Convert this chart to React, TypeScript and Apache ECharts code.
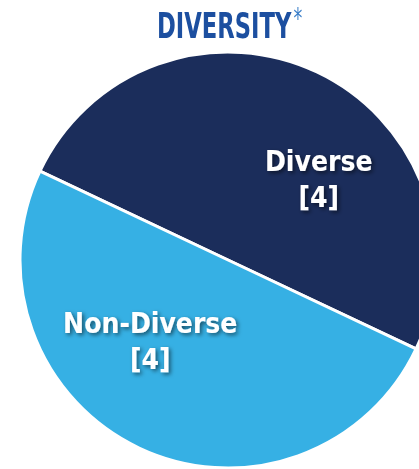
import React, { useEffect, useRef } from "react";
import * as echarts from "echarts";

const categories = ["Diverse", "Non-Diverse"];
const values = [4, 4];
const colors = ["#1b2d5b", "#36b0e4"];
const titleText = "DIVERSITY";

export default function App() {
  const ref = useRef<HTMLDivElement>(null);
  useEffect(() => {
    const chart = echarts.init(ref.current!, null, { renderer: "svg" });
    const font = "'Liberation Sans Narrow', 'DejaVu Sans Condensed', sans-serif";
    const offsets = [
      [45, 16],
      [-32, -15],
    ];
    chart.setOption({
      animation: false,
      graphic: [
        {
          type: "text",
          x: 157,
          y: 5,
          scaleX: 0.7,
          style: {
            text: "{a|" + titleText + "}{b|*}",
            rich: {
              a: { fontSize: 36, fontWeight: "bold", fill: "#1c4fa0", fontFamily: font },
              b: { fontSize: 28, fill: "#3b7fc9", fontFamily: font, verticalAlign: "top", padding: [0, 0, 12, 3] },
            },
          },
        },
      ],
      series: [
        {
          type: "pie",
          center: [228, 260],
          radius: 208,
          startAngle: 154.7,
          clockwise: true,
          silent: true,
          itemStyle: { borderColor: "#ffffff", borderWidth: 3 },
          label: {
            show: true,
            position: "inside",
            formatter: "{b}\n[{c}]",
            color: "#ffffff",
            fontFamily: font,
            fontWeight: "bold",
            fontSize: 28,
            lineHeight: 36,
            textShadowColor: "rgba(0,0,0,0.55)",
            textShadowBlur: 4,
            textShadowOffsetX: 2,
            textShadowOffsetY: 2,
          },
          labelLine: { show: false },
          labelLayout: (p: any) => ({ dx: offsets[p.dataIndex][0], dy: offsets[p.dataIndex][1] }),
          data: categories.map((c, i) => ({ name: c, value: values[i], itemStyle: { color: colors[i] } })),
        },
      ],
    });
    return () => chart.dispose();
  }, []);
  return <div ref={ref} style={{ position: "fixed", left: 0, top: 0, width: 419, height: 469 }} />;
}
